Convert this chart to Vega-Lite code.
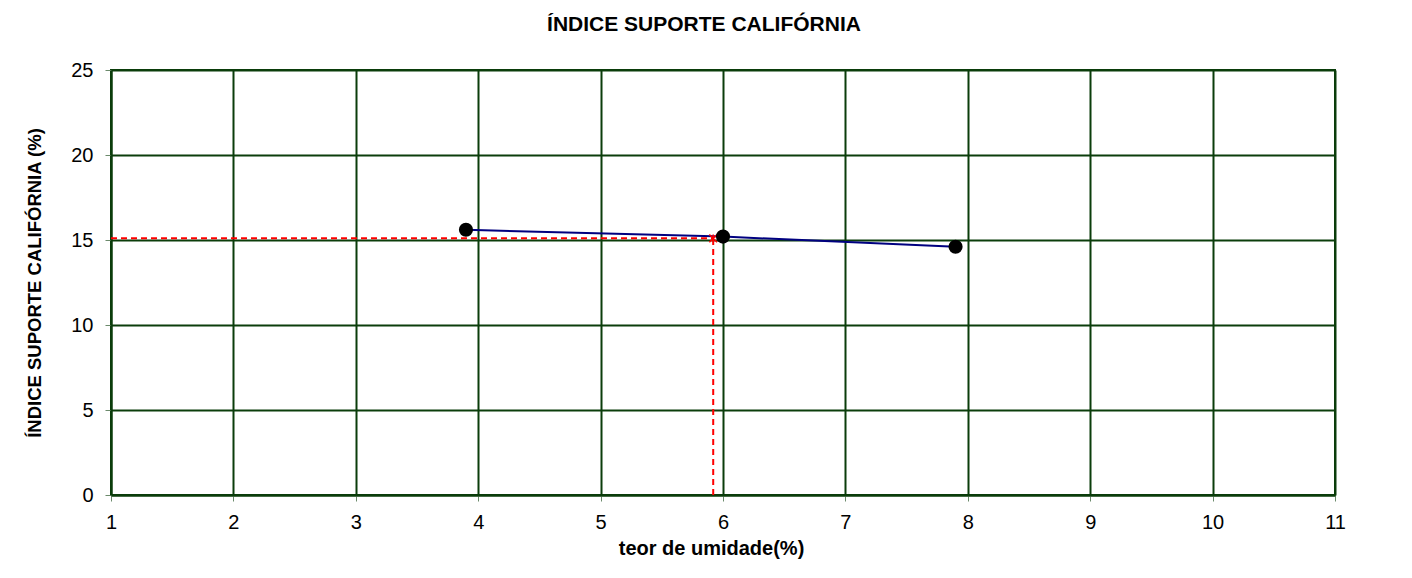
{
  "$schema": "https://vega.github.io/schema/vega-lite/v6.json",
  "width": 1224,
  "height": 425,
  "autosize": {"type": "none"},
  "padding": {"left": 111, "top": 70, "right": 77, "bottom": 83},
  "background": "white",
  "title": {
    "text": "ÍNDICE SUPORTE CALIFÓRNIA",
    "font": "Liberation Sans",
    "fontSize": 21,
    "fontWeight": "bold",
    "color": "#000000",
    "anchor": "middle",
    "frame": "group",
    "dx": -19,
    "offset": 25
  },
  "config": {
    "view": {"stroke": "#0b3d0b", "strokeWidth": 2},
    "axis": {
      "labelFont": "Liberation Sans",
      "labelFontSize": 20,
      "labelColor": "#000000",
      "labelFlush": false,
      "labelOverlap": false,
      "titleFont": "Liberation Sans",
      "titleFontWeight": "bold",
      "titleColor": "#000000",
      "domainColor": "#0b3d0b",
      "domainWidth": 2,
      "gridColor": "#0b3d0b",
      "gridWidth": 2,
      "gridOpacity": 1,
      "tickColor": "#6b8a6b",
      "tickSize": 6,
      "tickWidth": 1
    }
  },
  "datasets": {
    "ensaio": [
      {"umidade": 3.9, "isc": 15.6},
      {"umidade": 6.0, "isc": 15.2},
      {"umidade": 7.9, "isc": 14.6}
    ],
    "ref": [
      {"xa": 1, "xb": 5.92, "ya": 15.1, "yb": 15.1},
      {"xa": 5.92, "xb": 5.92, "ya": 0, "yb": 15.1}
    ],
    "otimo": [
      {"umidade": 5.92, "isc": 15.1}
    ]
  },
  "layer": [
    {
      "data": {"name": "ensaio"},
      "mark": {"type": "line", "color": "#000080", "strokeWidth": 2, "interpolate": "monotone"},
      "encoding": {
        "x": {
          "field": "umidade", "type": "quantitative",
          "scale": {"domain": [1, 11], "nice": false, "zero": false},
          "axis": {"values": [1,2,3,4,5,6,7,8,9,10,11], "format": "d", "title": "teor de umidade(%)", "titleFontSize": 20, "titlePadding": 6, "labelPadding": 11, "titleX": 600}
        },
        "y": {
          "field": "isc", "type": "quantitative",
          "scale": {"domain": [0, 25], "nice": false},
          "axis": {"values": [0,5,10,15,20,25], "format": "d", "title": "ÍNDICE SUPORTE CALIFÓRNIA (%)", "titleFontSize": 18.5, "titlePadding": 26, "labelPadding": 12}
        }
      }
    },
    {
      "data": {"name": "ref"},
      "mark": {"type": "rule", "color": "#ff0000", "strokeWidth": 2, "strokeDash": [6, 4]},
      "encoding": {
        "x": {"field": "xa", "type": "quantitative"},
        "x2": {"field": "xb"},
        "y": {"field": "ya", "type": "quantitative"},
        "y2": {"field": "yb"}
      }
    },
    {
      "data": {"name": "otimo"},
      "mark": {"type": "point", "shape": "M-1,-1L1,1M-1,1L1,-1M0,-1L0,1", "stroke": "#ff0000", "strokeWidth": 1.5, "filled": false, "size": 60, "opacity": 1},
      "encoding": {
        "x": {"field": "umidade", "type": "quantitative"},
        "y": {"field": "isc", "type": "quantitative"}
      }
    },
    {
      "data": {"name": "ensaio"},
      "mark": {"type": "point", "shape": "circle", "filled": true, "color": "#000000", "size": 200, "opacity": 1},
      "encoding": {
        "x": {"field": "umidade", "type": "quantitative"},
        "y": {"field": "isc", "type": "quantitative"}
      }
    }
  ]
}
